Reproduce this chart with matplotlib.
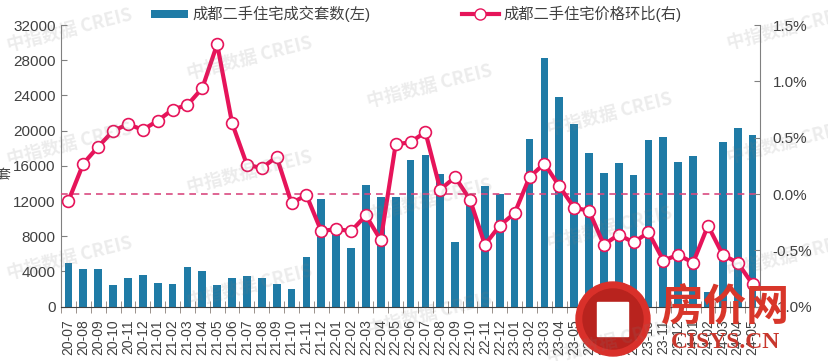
import numpy as np
import matplotlib
matplotlib.use("Agg")
import matplotlib.pyplot as plt
from matplotlib.lines import Line2D
from matplotlib.patches import Patch, Circle, Rectangle

plt.rcParams['font.family'] = ['Liberation Sans', 'Noto Sans CJK SC', 'DejaVu Sans']

# 月份
months = ['20-07', '20-08', '20-09', '20-10', '20-11', '20-12',
          '21-01', '21-02', '21-03', '21-04', '21-05', '21-06',
          '21-07', '21-08', '21-09', '21-10', '21-11', '21-12',
          '22-01', '22-02', '22-03', '22-04', '22-05', '22-06',
          '22-07', '22-08', '22-09', '22-10', '22-11', '22-12',
          '23-01', '23-02', '23-03', '23-04', '23-05', '23-06',
          '23-07', '23-08', '23-09', '23-10', '23-11', '23-12',
          '24-01', '24-02', '24-03', '24-04', '24-05']

# 成交套数(左)
volumes = [4930, 4250, 4250, 2430, 3225, 3600, 2730, 2540, 4475, 4090, 2430, 3300,
           3490, 3300, 2540, 2050, 5610, 12200, 8340, 6670, 13830, 12430, 12430, 16670,
           17270, 15080, 7310, 11800, 13750, 12770, 10000, 19050, 28220, 23790, 20720, 17430,
           15230, 16330, 14930, 18940, 19310, 16470, 17120, 1700, 18740, 20270, 19470]

# 价格环比 %(右)
mom = [-0.06, 0.27, 0.42, 0.56, 0.62, 0.57, 0.65, 0.75, 0.79, 0.94, 1.33, 0.63,
       0.26, 0.23, 0.33, -0.08, -0.01, -0.33, -0.31, -0.33, -0.19, -0.41, 0.44, 0.46,
       0.55, 0.04, 0.15, -0.05, -0.45, -0.28, -0.17, 0.15, 0.27, 0.07, -0.12, -0.15,
       -0.45, -0.36, -0.43, -0.34, -0.59, -0.54, -0.61, -0.28, -0.54, -0.61, -0.80]

bar_color = '#1F7BA6'
line_color = '#E6145A'
txt_color = '#404040'

fig = plt.figure(figsize=(8.29, 3.61), dpi=100)
ax = fig.add_axes([0.0736, 0.1504, 0.8432, 0.7803])
x = np.arange(len(months))

ax.bar(x, volumes, width=0.52, color=bar_color, zorder=2)
ax.set_xlim(-0.5, len(months) - 0.5)
ax.set_ylim(0, 32000)
ax.set_yticks(np.arange(0, 32001, 4000))
ax.set_xticks(x)
ax.set_xticklabels(months, rotation=90, fontsize=10, color=txt_color)
ax.set_xticks(np.arange(-0.5, len(months), 1), minor=True)
ax.tick_params(axis='x', which='major', length=0, pad=9)
ax.tick_params(axis='x', which='minor', direction='inout', length=8, color='#8a8078')
ax.tick_params(axis='y', direction='in', length=4, labelsize=11, labelcolor=txt_color,
               color='#808080', pad=4)
ax.spines['top'].set_visible(False)
ax.spines['right'].set_visible(False)
ax.spines['left'].set_color('#808080')
ax.spines['bottom'].set_color('#404040')

ax2 = ax.twinx()
ax2.set_ylim(-1.0, 1.5)
ax2.set_yticks([-1.0, -0.5, 0.0, 0.5, 1.0, 1.5])
ax2.set_yticklabels([f"{v:.1f}%" for v in [-1.0, -0.5, 0.0, 0.5, 1.0, 1.5]])
ax2.tick_params(axis='y', direction='in', length=4, labelsize=11, labelcolor=txt_color,
                color='#808080', pad=9)
ax2.axhline(0, color='#D94A80', linestyle=(0, (4, 3)), linewidth=1.2, zorder=1)
ax2.plot(x, mom, color=line_color, linewidth=3, marker='o', markersize=8.5,
         markerfacecolor='white', markeredgecolor=line_color, markeredgewidth=1.2, zorder=3)
for s in ['top', 'left', 'bottom']:
    ax2.spines[s].set_visible(False)
ax2.spines['right'].set_color('#808080')

handles = [Patch(facecolor=bar_color, edgecolor='none'),
           Line2D([], [], color=line_color, linewidth=3, marker='o', markersize=8,
                  markerfacecolor='white', markeredgecolor=line_color)]
fig.legend(handles, ['成都二手住宅成交套数(左)', '成都二手住宅价格环比(右)'],
           loc='center', bbox_to_anchor=(0.502, 0.961), ncol=2, frameon=False,
           fontsize=11, handlelength=2.4, handleheight=0.45, columnspacing=6,
           handletextpad=0.3, labelcolor=txt_color)

fig.text(-0.004, 0.515, '套', fontsize=10, color=txt_color, va='center')

# 水印 + 角标
ov = fig.add_axes([0, 0, 1, 1], zorder=10)
ov.set_xlim(0, 829)
ov.set_ylim(361, 0)
ov.axis('off')
for k in range(-1, 3):
    for cx in [70, 250, 430, 610, 790]:
        cy = 58 + 0.155 * (cx - 250) + 114 * k
        if cy < 20 or cy > 345:
            continue
        ov.text(cx, cy, '中指数据 CREIS', fontsize=13, fontweight='bold', color='gray',
                alpha=0.15, rotation=14, ha='center', va='center',
                family=['Noto Sans CJK SC', 'DejaVu Sans'])

ov.add_patch(Circle((613, 319), 37, color='#D9302A'))
ov.add_patch(Circle((613, 319), 30, color='#B8231E'))
ov.add_patch(Rectangle((597, 302), 31, 34, color='white'))
ov.text(725, 307, '房价网', fontsize=31, fontweight='bold', color='#D8362A',
        ha='center', va='center', family=['Noto Sans CJK SC'])
ov.text(726, 342, 'CISYS.CN', fontsize=17, fontweight='bold', color='#C8372D',
        ha='center', va='center', family=['Liberation Serif'])

fig.savefig('out.png', dpi=100)
